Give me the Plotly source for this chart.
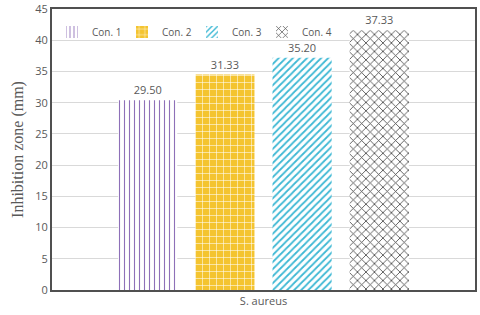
import plotly.graph_objects as go

category = ["S. aureus"]
series = ["Con. 1", "Con. 2", "Con. 3", "Con. 4"]
bar_heights = [30.4, 34.5, 37.2, 41.6]
label_texts = ["29.50", "31.33", "35.20", "37.33"]
y_ticks = [0, 5, 10, 15, 20, 25, 30, 35, 40, 45]

styles = [
    dict(shape="|", fg="#8E70B8", bg="white", size=5, sol=0.22),
    dict(shape="+", fg="white", bg="#F4C430", size=7, sol=0.15),
    dict(shape="/", fg="#3DB8D4", bg="white", size=5, sol=0.35),
    dict(shape="x", fg="#404040", bg="white", size=6, sol=0.25),
]

fig = go.Figure()
for name, h, lab, st in zip(series, bar_heights, label_texts, styles):
    fig.add_trace(go.Bar(
        x=category, y=[h], name=name,
        text=[lab], textposition="outside",
        textfont=dict(family="Open Sans", size=11, color="#595959"),
        cliponaxis=False,
        marker=dict(color=st["bg"], line=dict(width=0),
                    pattern=dict(shape=st["shape"], fgcolor=st["fg"], bgcolor=st["bg"],
                                 size=st["size"], solidity=st["sol"], fillmode="replace")),
    ))

fig.update_layout(
    width=480, height=315,
    margin=dict(l=52, r=5, t=9, b=25, autoexpand=False),
    paper_bgcolor="white", plot_bgcolor="white",
    barmode="group", bargap=0.27, bargroupgap=0.234,
    showlegend=True,
    legend=dict(orientation="h", x=0.0, y=0.97, xanchor="left", yanchor="top",
                font=dict(family="Open Sans", size=10, color="#595959"),
                bgcolor="rgba(0,0,0,0)", itemwidth=30, tracegroupgap=0,
                entrywidth=25, entrywidthmode="pixels"),
    font=dict(family="Open Sans", color="#595959"),
)
fig.update_yaxes(range=[0, 45], tickvals=y_ticks, showgrid=True, gridcolor="#D9D9D9",
                 tickfont=dict(size=11, color="#595959"),
                 title=dict(text="Inhibition zone (mm)", font=dict(family="Liberation Serif", size=16, color="#595959"), standoff=8),
                 showline=True, linecolor="#505050", linewidth=2, mirror=True, zeroline=False,
                 ticks="")
fig.update_xaxes(showline=True, linecolor="#505050", linewidth=2, mirror=True,
                 tickfont=dict(size=11, color="#595959"), ticks="")

fig.write_html("out.html", config={"displayModeBar": False},
               post_script="document.body.style.margin='0';")
